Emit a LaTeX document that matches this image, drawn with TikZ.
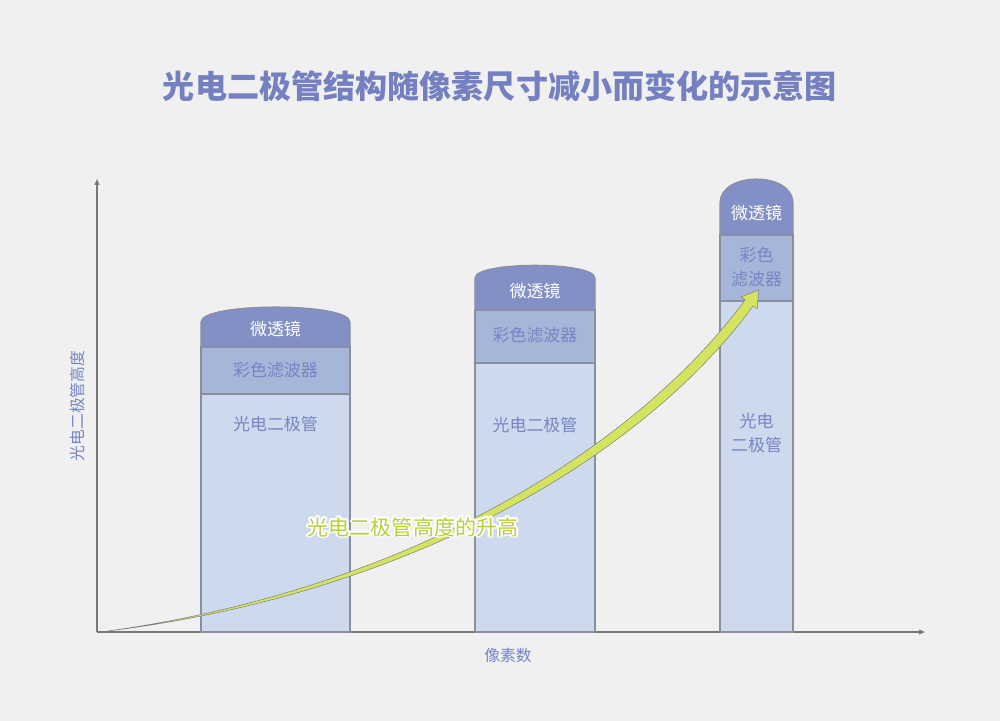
\documentclass[tikz,border=0pt]{standalone}
\usepackage{fontspec}
\setmainfont{Noto Sans CJK SC}
\usetikzlibrary{arrows.meta}

\definecolor{bggray}{RGB}{240,240,240}
\definecolor{titleblue}{RGB}{116,128,192}
\definecolor{textblue}{RGB}{118,132,196}
\definecolor{lensblue}{RGB}{130,144,198}
\definecolor{filterblue}{RGB}{166,182,216}
\definecolor{diodeblue}{RGB}{205,218,238}
\definecolor{edgegray}{RGB}{138,142,158}
\definecolor{axisgray}{RGB}{120,120,124}
\definecolor{risegreen}{RGB}{212,228,96}
\definecolor{labelgreen}{RGB}{186,206,64}

\begin{document}
\begin{tikzpicture}[x=0.3mm,y=-0.3mm,
  font=\fontsize{14.5}{20}\selectfont,
  axis/.style={draw=axisgray,line width=0.9pt,-{Triangle[length=5pt,width=4pt]}},
  diode/.style={fill=diodeblue,draw=edgegray,line width=0.9pt},
  filter/.style={fill=filterblue,draw=edgegray,line width=0.9pt},
  lens/.style={fill=lensblue,draw=edgegray,line width=0.9pt},
  lenstext/.style={text=white,align=center},
  bandtext/.style={text=textblue,align=center},
  axislabel/.style={text=textblue,font=\fontsize{13.5}{16}\selectfont},
  risetext/.style={font=\fontsize{18}{22}\selectfont}]

%background and title
  \fill[bggray] (0,0) rectangle (1000,721);
  \node[text=titleblue,font=\fontsize{27.4}{32}\selectfont\bfseries] (title) at (500,86)
    {光电二极管结构随像素尺寸减小而变化的示意图};

%draw axes
  \coordinate (origin) at (97,632);
  \coordinate (ytip) at (97,179);
  \coordinate (xtip) at (925,632);
  \draw[axis] (origin) -- (ytip);
  \draw[axis] (origin) -- (xtip);
  \node[axislabel,rotate=90] (ylabel) at (77,406) {光电二极管高度};
  \node[axislabel] (xlabel) at (508,655) {像素数};

%draw bars
  \foreach \n/\xl/\xr/\ys/\yc/\yl/\yf/\tl/\tf/\tp/\ftext/\ptext in {
     one/201/350/322/302/347/394/329/370/424/{彩色滤波器}/{光电二极管},
     two/475/595/278/261/310/363/291/335/425/{彩色滤波器}/{光电二极管},
     three/720/793/203/171/235/301/213/267/433/{彩色\\滤波器}/{光电\\二极管}} {
    \draw[diode] (\xl,\yf) rectangle (\xr,632);
    \draw[filter] (\xl,\yl) rectangle (\xr,\yf);
    \draw[lens] (\xl,\yl) -- (\xl,\ys) .. controls (\xl,\yc) and (\xr,\yc) .. (\xr,\ys) -- (\xr,\yl) -- cycle;
    \node[lenstext] (lens-\n) at ({(\xl+\xr)/2},\tl) {微透镜};
    \node[bandtext] (filter-\n) at ({(\xl+\xr)/2},\tf) {\ftext};
    \node[bandtext] (diode-\n) at ({(\xl+\xr)/2},\tp) {\ptext};
  }

%draw rising arrow
  \fill[risegreen,draw=axisgray,line width=0.4pt]
    (108,631) .. controls (419.2,587.6) and (641.4,440.9) .. (745.1,299.9)
    -- (741.0,297.0) -- (758.6,290) -- (757.2,308.8) -- (753.1,305.9)
    .. controls (648.6,449.1) and (420.8,592.4) .. (108,631) -- cycle;

%label with white halo
  \foreach \a in {0,30,...,330}
    \node[risetext,text=white,shift={(\a:1.6pt)}] (halo-\a) at (413,527) {光电二极管高度的升高};
  \node[risetext,text=labelgreen] (rise) at (413,527) {光电二极管高度的升高};

\end{tikzpicture}
\end{document}
